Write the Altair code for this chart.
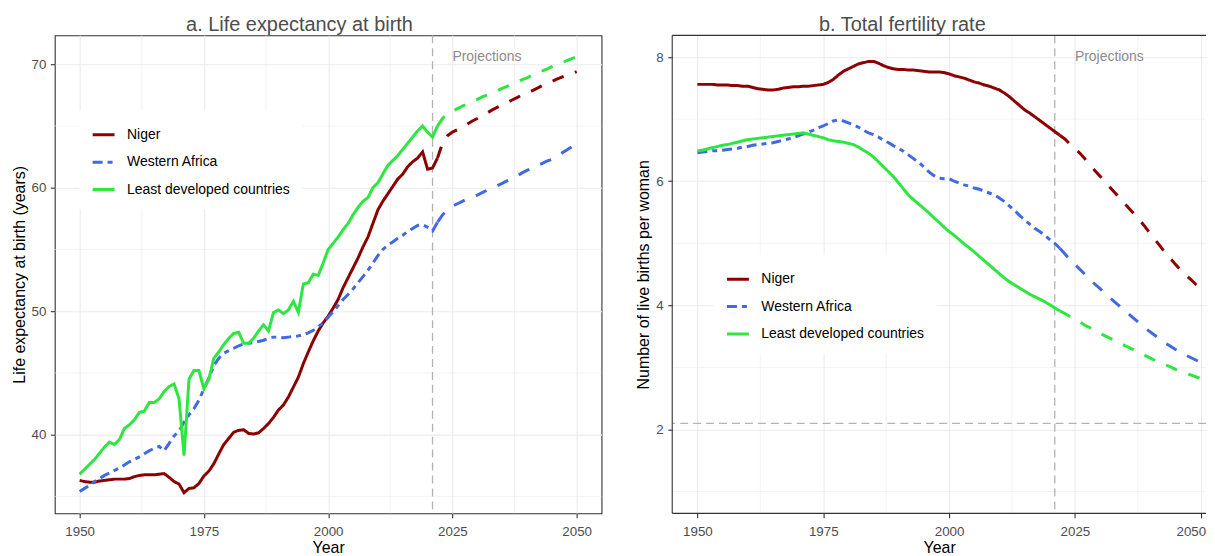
import altair as alt
import pandas as pd

# ---------------- data ----------------
series_names = ["Niger", "Western Africa", "Least developed countries"]
series_colors = ["#8b0000", "#4169e1", "#2ee640"]

years_hist = list(range(1950, 2023))
years_proj = list(range(2022, 2051))

le_niger_hist = [36.3, 36.2, 36.15, 36.15, 36.25, 36.3, 36.35, 36.4, 36.4, 36.4,
                 36.45, 36.6, 36.7, 36.75, 36.75, 36.75, 36.8, 36.85, 36.55, 36.2,
                 36.0, 35.3, 35.65, 35.7, 36.05, 36.65, 37.05, 37.65, 38.45, 39.2,
                 39.7, 40.2, 40.35, 40.4, 40.1, 40.05, 40.15, 40.5, 40.9, 41.4,
                 42.0, 42.4, 43.05, 43.85, 44.65, 45.75, 46.7, 47.6, 48.4, 49.05,
                 49.6, 50.25, 50.95, 51.9, 52.7, 53.5, 54.3, 55.2, 56.0, 57.1,
                 58.2, 58.9, 59.5, 60.1, 60.7, 61.1, 61.7, 62.1, 62.4, 62.9,
                 61.5, 61.6, 62.4]
le_wa_hist = [35.4, 35.65, 35.9, 36.2, 36.45, 36.7, 36.9, 37.1, 37.3, 37.55,
              37.8, 38.0, 38.2, 38.45, 38.7, 38.9, 39.05, 38.7, 39.3, 39.9,
              40.3, 41.0, 41.6, 42.1, 42.8, 43.7, 44.6, 45.6, 46.2, 46.6,
              46.8, 47.0, 47.2, 47.35, 47.4, 47.45, 47.55, 47.65, 47.8, 47.9,
              47.9, 47.85, 47.9, 47.95, 48.0, 48.1, 48.25, 48.45, 48.75, 49.05,
              49.5, 49.95, 50.45, 50.95, 51.35, 51.8, 52.3, 52.8, 53.3, 53.9,
              54.5, 55.0, 55.35, 55.6, 55.9, 56.15, 56.45, 56.7, 56.95, 57.0,
              56.8, 56.5, 57.2]
le_ldc_hist = [36.8, 37.2, 37.6, 38.0, 38.5, 39.0, 39.4, 39.2, 39.6, 40.5,
               40.8, 41.2, 41.8, 41.9, 42.6, 42.6, 42.9, 43.5, 43.9, 44.1,
               42.9, 38.3, 44.5, 45.2, 45.2, 43.7, 44.5, 46.2, 46.7, 47.3,
               47.8, 48.2, 48.3, 47.4, 47.4, 47.8, 48.4, 48.9, 48.4, 49.9,
               50.1, 49.8, 50.1, 50.8, 49.9, 52.2, 52.3, 53.0, 52.9, 53.9,
               55.0, 55.5, 56.0, 56.6, 57.1, 57.8, 58.4, 58.9, 59.2, 60.0,
               60.4, 61.1, 61.8, 62.2, 62.6, 63.1, 63.6, 64.1, 64.6, 65.0,
               64.5, 64.1, 65.0]

le_niger_proj = [62.4, 63.6, 64.2, 64.5, 64.7, 64.9, 65.15, 65.4, 65.6, 65.85,
                 66.05, 66.3, 66.5, 66.7, 66.9, 67.1, 67.3, 67.5, 67.7, 67.85,
                 68.05, 68.25, 68.4, 68.6, 68.8, 68.95, 69.1, 69.25, 69.4]
le_wa_proj = [57.2, 57.8, 58.2, 58.5, 58.7, 58.9, 59.1, 59.25, 59.4, 59.6,
              59.8, 60.0, 60.15, 60.35, 60.55, 60.75, 60.95, 61.2, 61.4, 61.6,
              61.8, 61.95, 62.15, 62.3, 62.55, 62.8, 63.05, 63.3, 63.6]
le_ldc_proj = [65.0, 65.6, 66.0, 66.2, 66.4, 66.6, 66.8, 67.0, 67.15, 67.35,
               67.5, 67.7, 67.85, 68.05, 68.2, 68.4, 68.55, 68.75, 68.9, 69.1,
               69.25, 69.45, 69.6, 69.8, 69.95, 70.1, 70.3, 70.45, 70.6]

tfr_niger_hist = [7.56, 7.56, 7.56, 7.56, 7.55, 7.55, 7.55, 7.54, 7.54, 7.53,
                  7.53, 7.51, 7.49, 7.48, 7.47, 7.47, 7.48, 7.50, 7.51, 7.52,
                  7.52, 7.53, 7.53, 7.54, 7.55, 7.56, 7.59, 7.64, 7.71, 7.77,
                  7.81, 7.85, 7.89, 7.91, 7.93, 7.93, 7.90, 7.86, 7.83, 7.81,
                  7.80, 7.80, 7.79, 7.79, 7.78, 7.77, 7.76, 7.76, 7.76, 7.75,
                  7.73, 7.70, 7.68, 7.66, 7.63, 7.60, 7.58, 7.55, 7.53, 7.50,
                  7.47, 7.42, 7.36, 7.29, 7.22, 7.15, 7.10, 7.04, 6.98, 6.92,
                  6.86, 6.80, 6.74]
tfr_wa_hist = [6.46, 6.47, 6.48, 6.49, 6.49, 6.50, 6.51, 6.52, 6.53, 6.55,
               6.56, 6.58, 6.59, 6.60, 6.61, 6.62, 6.64, 6.66, 6.68, 6.70,
               6.73, 6.76, 6.79, 6.82, 6.86, 6.89, 6.93, 6.97, 6.99, 6.97,
               6.94, 6.91, 6.87, 6.82, 6.78, 6.75, 6.71, 6.66, 6.62, 6.57,
               6.53, 6.48, 6.42, 6.36, 6.30, 6.23, 6.15, 6.09, 6.05, 6.04,
               6.04, 6.00, 5.97, 5.94, 5.92, 5.89, 5.87, 5.84, 5.81, 5.78,
               5.73, 5.67, 5.60, 5.53, 5.45, 5.38, 5.31, 5.24, 5.19, 5.13,
               5.06, 5.00, 4.92]
tfr_ldc_hist = [6.49, 6.50, 6.52, 6.54, 6.56, 6.58, 6.59, 6.61, 6.63, 6.65,
                6.67, 6.68, 6.69, 6.70, 6.71, 6.72, 6.73, 6.74, 6.75, 6.76,
                6.77, 6.78, 6.76, 6.74, 6.72, 6.70, 6.67, 6.65, 6.64, 6.63,
                6.61, 6.59, 6.55, 6.50, 6.45, 6.39, 6.31, 6.23, 6.15, 6.07,
                5.97, 5.87, 5.77, 5.70, 5.63, 5.56, 5.49, 5.41, 5.34, 5.26,
                5.19, 5.13, 5.06, 4.99, 4.93, 4.86, 4.79, 4.72, 4.65, 4.58,
                4.51, 4.44, 4.38, 4.33, 4.28, 4.23, 4.18, 4.14, 4.10, 4.06,
                4.01, 3.96, 3.91]

tfr_niger_proj = [6.74, 6.68, 6.60, 6.53, 6.45, 6.36, 6.26, 6.17, 6.08, 5.99,
                  5.90, 5.81, 5.72, 5.63, 5.54, 5.45, 5.36, 5.26, 5.15, 5.05,
                  4.95, 4.84, 4.75, 4.66, 4.57, 4.49, 4.42, 4.34, 4.27]
tfr_wa_proj = [4.92, 4.83, 4.74, 4.66, 4.58, 4.50, 4.42, 4.34, 4.27, 4.19,
               4.12, 4.05, 3.98, 3.91, 3.84, 3.77, 3.70, 3.63, 3.57, 3.51,
               3.45, 3.39, 3.34, 3.29, 3.24, 3.20, 3.16, 3.12, 3.08]
tfr_ldc_proj = [3.91, 3.87, 3.82, 3.77, 3.73, 3.68, 3.64, 3.59, 3.55, 3.51,
                3.47, 3.43, 3.39, 3.35, 3.31, 3.27, 3.23, 3.19, 3.15, 3.11,
                3.08, 3.04, 3.01, 2.97, 2.94, 2.91, 2.88, 2.85, 2.82]

x_ticks = [1950, 1975, 2000, 2025, 2050]
x_minor = [1962.5, 1987.5, 2012.5, 2037.5]
le_ticks = [40, 50, 60, 70]
le_minor = [35, 45, 55, 65]
tfr_ticks = [2, 4, 6, 8]
tfr_minor = [1, 3, 5, 7]
current_year = [2021]
replacement_level = [2.1]
projection_label = ["Projections"]
projection_label_year = [2025]


def long_df(years, lists):
    rows = []
    for name, vals in zip(series_names, lists):
        for y, v in zip(years, vals):
            rows.append({"year": y, "value": v, "series": name})
    return pd.DataFrame(rows)


le_hist = long_df(years_hist, [le_niger_hist, le_wa_hist, le_ldc_hist])
le_proj = long_df(years_proj, [le_niger_proj, le_wa_proj, le_ldc_proj])
tfr_hist = long_df(years_hist, [tfr_niger_hist, tfr_wa_hist, tfr_ldc_hist])
tfr_proj = long_df(years_proj, [tfr_niger_proj, tfr_wa_proj, tfr_ldc_proj])

FONT = "Liberation Sans"
GRID = "#ebebeb"
BORDER = "#333333"
PH = 480


def panel(hist, proj, xdomain, ydomain, yticks, yminor, ytitle, title, title_dx,
          width, legend_x, legend_y, label_y, hline=None, open_right=False):
    xs = alt.Scale(domain=xdomain, nice=False, zero=False)
    ys = alt.Scale(domain=ydomain, nice=False, zero=False)
    if open_right:
        xax = alt.Axis(values=x_ticks, format="d", title="Year",
                       labelFlush=10, labelFlushOffset=5)
    else:
        xax = alt.Axis(values=x_ticks, format="d", title="Year")
    yax = alt.Axis(values=yticks, format="d", title=ytitle)
    leg = alt.Legend(title=None, orient="none", legendX=legend_x, legendY=legend_y,
                     fillColor="white", padding=12, symbolType="stroke",
                     symbolSize=484, symbolStrokeWidth=3, labelFontSize=14,
                     labelFont=FONT, labelColor="black", rowPadding=7.5,
                     labelOffset=11, labelLimit=400)
    cscale = alt.Scale(domain=series_names, range=series_colors)
    dscale = alt.Scale(domain=series_names, range=[[1, 0], [10, 5, 5, 5], [1, 0]])

    X = lambda f="year": alt.X(f + ":Q", scale=xs, axis=xax)
    Y = lambda f="value": alt.Y(f + ":Q", scale=ys, axis=yax)

    layers = []
    layers.append(alt.Chart(pd.DataFrame({"year": x_minor}))
                  .mark_rule(color=GRID, strokeWidth=0.6).encode(x=X()))
    layers.append(alt.Chart(pd.DataFrame({"value": yminor}))
                  .mark_rule(color=GRID, strokeWidth=0.6).encode(y=Y()))
    if hline is not None:
        layers.append(alt.Chart(pd.DataFrame({"value": hline}))
                      .mark_rule(color="#b3b3b3", strokeDash=[8, 5], strokeWidth=1.3)
                      .encode(y=Y()))
    layers.append(alt.Chart(pd.DataFrame({"year": current_year}))
                  .mark_rule(color="#b3b3b3", strokeDash=[8, 5], strokeWidth=1.3)
                  .encode(x=X()))
    layers.append(alt.Chart(hist).mark_line(strokeWidth=3, strokeCap="butt")
                  .encode(x=X(), y=Y(),
                          color=alt.Color("series:N", scale=cscale, legend=leg),
                          strokeDash=alt.StrokeDash("series:N", scale=dscale, legend=leg),
                          order=alt.Order("year:Q")))
    layers.append(alt.Chart(proj).mark_line(strokeWidth=3, strokeCap="butt",
                                            strokeDash=[12, 12])
                  .encode(x=X(), y=Y(),
                          color=alt.Color("series:N", scale=cscale, legend=leg),
                          order=alt.Order("year:Q")))
    layers.append(alt.Chart(pd.DataFrame({"year": projection_label_year,
                                          "value": [label_y],
                                          "label": projection_label}))
                  .mark_text(align="left", baseline="middle", fontSize=14,
                             font=FONT, color="#8c8c8c")
                  .encode(x=X(), y=Y(), text="label:N"))
    props = dict(width=width, height=PH,
                 title=alt.TitleParams(title, fontSize=20, font=FONT,
                                       fontWeight="normal", color="#4d4d4d",
                                       anchor="middle", frame="group",
                                       dx=title_dx, offset=0))
    if open_right:
        one = pd.DataFrame({"edge": [1]})
        layers.append(alt.Chart(one).mark_rule(color=BORDER, strokeWidth=1.1)
                      .encode(x=alt.value(0), x2=alt.value(width), y=alt.value(0)))
        layers.append(alt.Chart(one).mark_rule(color=BORDER, strokeWidth=1.1)
                      .encode(x=alt.value(0), x2=alt.value(width), y=alt.value(PH)))
        layers.append(alt.Chart(one).mark_rule(color=BORDER, strokeWidth=1.1)
                      .encode(x=alt.value(0), y=alt.value(0), y2=alt.value(PH)))
        props["view"] = alt.ViewBackground(strokeWidth=0, strokeOpacity=0)
    return alt.layer(*layers).properties(**props)


left = panel(le_hist, le_proj, [1945, 2055], [33.63, 72.34], le_ticks, le_minor,
             "Life expectancy at birth (years)", "a. Life expectancy at birth",
             -28.8, 549, 24.5, 75.4, 70.6)
right = panel(tfr_hist, tfr_proj, [1945, 2051.05], [0.65, 8.35], tfr_ticks, tfr_minor,
              "Number of live births per woman", "b. Total fertility rate",
              -36.9, 536, 41.5, 220.4, 8.0, hline=replacement_level, open_right=True)

chart = (alt.hconcat(left, right, spacing=33)
         .resolve_scale(color="independent", strokeDash="independent")
         .resolve_legend(color="independent", strokeDash="independent")
         .properties(padding={"left": 2, "top": 4.3, "right": 0, "bottom": 0})
         .configure_view(stroke=BORDER, strokeWidth=1.1)
         .configure_axis(labelFont=FONT, labelFontSize=13.4, labelColor="#4d4d4d",
                         titleFont=FONT, titleFontSize=16, titleColor="black",
                         titleFontWeight="normal", tickColor=BORDER, tickSize=4.5,
                         tickWidth=1.1, gridColor=GRID, gridWidth=1.1, domain=False)
         .configure_axisX(labelPadding=6.5, titlePadding=1.5)
         .configure_axisY(labelPadding=4.5, titlePadding=4)
         .configure_legend(labelFont=FONT))

chart.save("out.html", embed_options={"renderer": "svg", "actions": False})
